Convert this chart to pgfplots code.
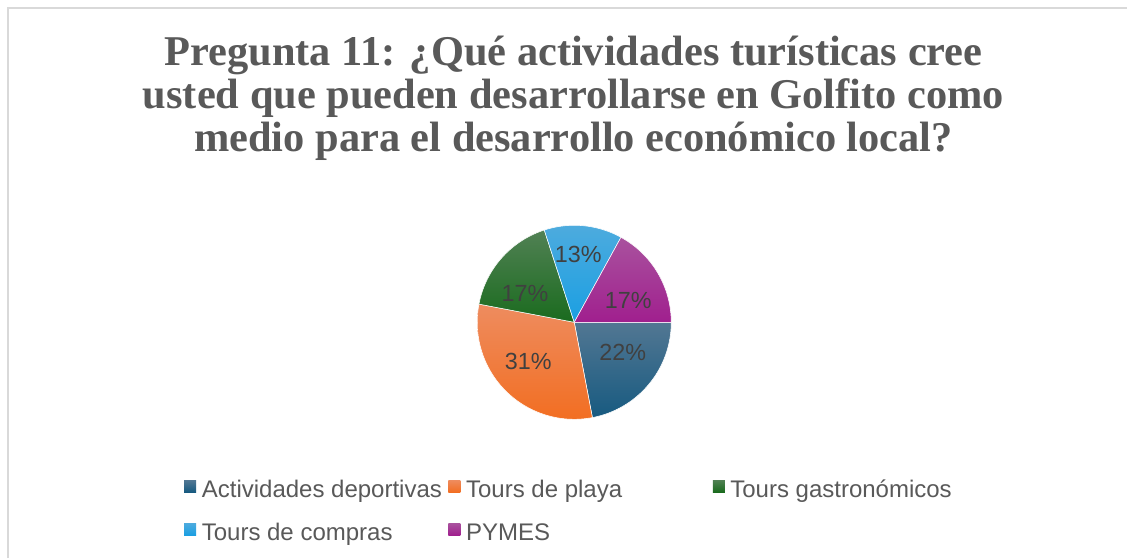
\documentclass[border=0pt]{standalone}
\usepackage{pgfplots}
\pgfplotsset{compat=1.18}
\usepackage{pgfplotstable}
\usepgfplotslibrary{polar}
\usepackage{fontspec}
\setmainfont{Liberation Sans}
\newfontfamily\titlefont{Liberation Serif}

\definecolor{txt}{HTML}{595959}
\definecolor{lbl}{HTML}{404040}
\definecolor{bord}{HTML}{D9D9D9}
\definecolor{blueT}{HTML}{527793}
\definecolor{blueB}{HTML}{175A80}
\definecolor{orT}{HTML}{EE8C5F}
\definecolor{orB}{HTML}{F26E22}
\definecolor{grT}{HTML}{518154}
\definecolor{grB}{HTML}{1A6B1E}
\definecolor{lbT}{HTML}{4DABDE}
\definecolor{lbB}{HTML}{1A9FE2}
\definecolor{mgT}{HTML}{A9529E}
\definecolor{mgB}{HTML}{A01F8E}

\pgfplotstableread{
share
22
31
17
13
17
}\piedata

\begin{document}%
\begin{tikzpicture}[x=0.75pt,y=0.75pt]
\pgfplotstablegetelem{0}{share}\of\piedata \let\vA\pgfplotsretval
\pgfplotstablegetelem{1}{share}\of\piedata \let\vB\pgfplotsretval
\pgfplotstablegetelem{2}{share}\of\piedata \let\vC\pgfplotsretval
\pgfplotstablegetelem{3}{share}\of\piedata \let\vD\pgfplotsretval
\pgfplotstablegetelem{4}{share}\of\piedata \let\vE\pgfplotsretval
\pgfmathsetmacro\aA{-3.6*\vA}
\pgfmathsetmacro\aB{\aA-3.6*\vB}
\pgfmathsetmacro\aC{\aB-3.6*\vC}
\pgfmathsetmacro\aD{\aC-3.6*\vD}
\pgfmathsetmacro\aE{\aD-3.6*\vE}
\fill[white] (0,0) rectangle (1127,558);
\draw[bord, line width=1.5pt] (8,0) -- (8,550) -- (1127,550);
\begin{scope}[font=\titlefont\bfseries\fontsize{31.8pt}{33pt}\selectfont, text=txt]
\node[anchor=base, inner sep=0pt] at (573.5,492) {Pregunta 11: ¿Qué actividades turísticas cree};
\node[anchor=base, inner sep=0pt] at (573.5,449.2) {usted que pueden desarrollarse en Golfito como};
\node[anchor=base, inner sep=0pt] at (573.5,406.5) {medio para el desarrollo económico local?};
\end{scope}
\begin{polaraxis}[
  at={(592,243)}, anchor=origin,
  width=145.5pt, height=145.5pt, scale only axis,
  hide axis, ymin=0, ymax=1, clip=false,
  legend columns=3,
  legend cell align=left,
  legend image code/.code={\path[#1, draw=none] (0pt,-1.5pt) rectangle (9pt,7.5pt);},
  legend style={
    at={(axis cs:201.98,4.339)}, anchor=north west,
    draw=none, fill=none, inner sep=0pt,
    font=\fontsize{18pt}{21pt}\selectfont, text=txt,
    column sep=4.2pt, row sep=17.5pt,
    nodes={inner sep=0pt},
  },
]
\addplot[domain=\aA:0, samples=60, top color=blueT, bottom color=blueB, draw=white, line width=0.4pt] {1} -- (axis cs:0,0) -- cycle;
\addlegendentry{\makebox[180.8pt][l]{Actividades deportivas}}
\addplot[domain=\aB:\aA, samples=60, top color=orT, bottom color=orB, draw=white, line width=0.4pt] {1} -- (axis cs:0,0) -- cycle;
\addlegendentry{\makebox[180.8pt][l]{Tours de playa}}
\addplot[domain=\aC:\aB, samples=60, top color=grT, bottom color=grB, draw=white, line width=0.4pt] {1} -- (axis cs:0,0) -- cycle;
\addlegendentry{\makebox[180.8pt][l]{Tours gastronómicos}}
\addplot[domain=\aD:\aC, samples=60, top color=lbT, bottom color=lbB, draw=white, line width=0.4pt] {1} -- (axis cs:0,0) -- cycle;
\addlegendentry{\makebox[180.8pt][l]{Tours de compras}}
\addplot[domain=\aE:\aD, samples=60, top color=mgT, bottom color=mgB, draw=white, line width=0.4pt] {1} -- (axis cs:0,0) -- cycle;
\addlegendentry{\makebox[180.8pt][l]{PYMES}}
\begin{scope}[font=\fontsize{17.5pt}{20pt}\selectfont, text=lbl]
\node at (axis cs:-32,0.59) {22\%};
\node at (axis cs:220.1,0.62) {31\%};
\node at (axis cs:149.5,0.59) {17\%};
\node at (axis cs:86.6,0.70) {13\%};
\node at (axis cs:22.1,0.60) {17\%};
\end{scope}
\end{polaraxis}
\pgfresetboundingbox
\path[use as bounding box] (0,0) rectangle (1127,558);
\end{tikzpicture}%
\end{document}
